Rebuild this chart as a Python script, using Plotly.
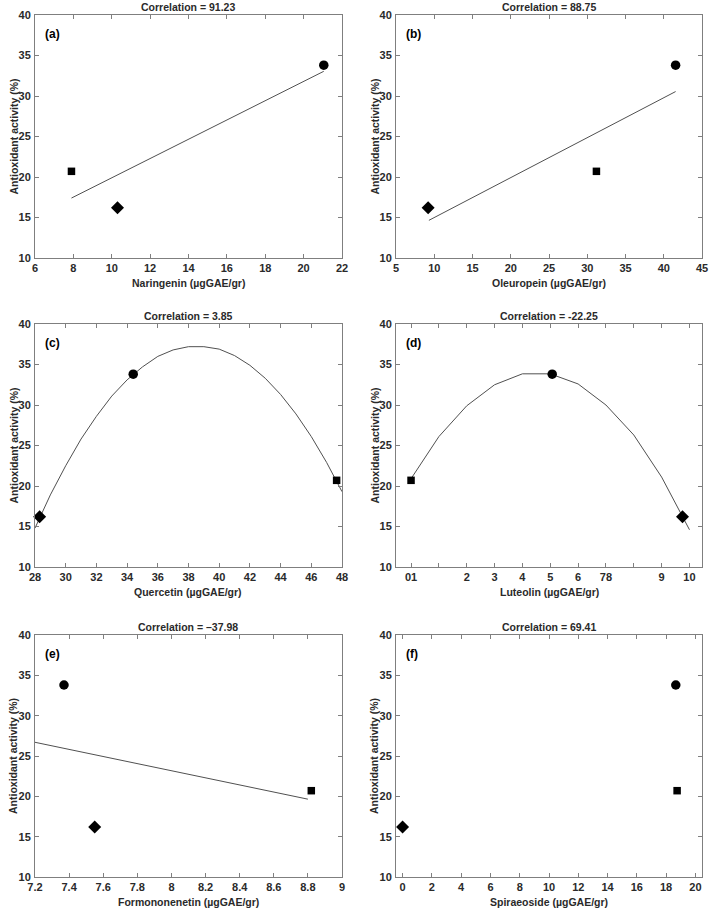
import plotly.graph_objects as go

# ---------------- data ----------------
activity = [20.7, 16.2, 33.8]            # square, diamond, circle samples
symbols = ["square", "diamond", "circle"]
sizes = [7.5, 10, 9.5]

naringenin = [7.9, 10.3, 21.05]
oleuropein = [31.2, 9.2, 41.55]
quercetin = [47.65, 28.3, 34.4]
luteolin = [0.0, 9.75, 5.07]
formononetin = [8.82, 7.55, 7.37]
spiraeoside = [18.75, 0.0, 18.66]

fit_a_x = [7.9, 21.05]
fit_a_y = [17.4, 33.05]
fit_b_x = [9.3, 41.55]
fit_b_y = [14.65, 30.55]
fit_c_x = [28, 29, 30, 31, 32, 33, 34, 35, 36, 37, 38, 39, 40, 41, 42, 43, 44, 45, 46, 47, 48]
fit_c_y = [14.8, 18.9, 22.5, 25.8, 28.6, 31.1, 33.1, 34.7, 36.0, 36.8, 37.2, 37.2, 36.9,
           36.1, 34.9, 33.3, 31.3, 28.9, 26.1, 22.9, 19.3]
fit_d_x = [0, 1, 2, 3, 4, 5, 6, 7, 8, 9, 10]
fit_d_y = [20.9, 26.1, 29.9, 32.5, 33.85, 33.85, 32.6, 30.0, 26.3, 21.1, 14.6]
fit_e_x = [7.2, 8.8]
fit_e_y = [26.7, 19.65]

luteolin_ticks = [0, 1, 2, 3, 4, 5, 6, 7, 8, 9, 10]
luteolin_ticktext = ["01", "", "2", "3", "4", "5", "6", "78", "", "9", "10"]

correlations = ["91.23", "88.75", "3.85", "-22.25", "\u201337.98", "69.41"]
panel_labels = ["(a)", "(b)", "(c)", "(d)", "(e)", "(f)"]
x_titles = ["Naringenin (\u00b5gGAE/gr)", "Oleuropein (\u00b5gGAE/gr)", "Quercetin (\u00b5gGAE/gr)",
            "Luteolin (\u00b5gGAE/gr)", "Formononenetin (\u00b5gGAE/gr)", "Spiraeoside (\u00b5gGAE/gr)"]
y_title = "Antioxidant activity (%)"

# ---------------- layout geometry ----------------
W, H = 709, 912
cols_px = [(35, 342), (396, 702)]
rows_px = [(15, 258), (324, 567), (635, 877)]

x_data = [naringenin, oleuropein, quercetin, luteolin, formononetin, spiraeoside]
fits = [(fit_a_x, fit_a_y), (fit_b_x, fit_b_y), (fit_c_x, fit_c_y),
        (fit_d_x, fit_d_y), (fit_e_x, fit_e_y), None]
x_ranges = [[6, 22], [5, 45], [28, 48], [-0.54, 10.45], [7.2, 9], [-0.45, 20.45]]
x_dticks = [2, 5, 2, None, 0.2, 2]

FONT = "Liberation Sans, Arial, sans-serif"
TXT = "#2a2a2a"
AX = "#7f7f7f"

fig = go.Figure()
annotations = []
layout = {}

for i in range(6):
    r, c = divmod(i, 2)
    xa = "x" if i == 0 else f"x{i+1}"
    ya = "y" if i == 0 else f"y{i+1}"
    xkey = "xaxis" if i == 0 else f"xaxis{i+1}"
    ykey = "yaxis" if i == 0 else f"yaxis{i+1}"
    x0, x1 = cols_px[c]
    t0, t1 = rows_px[r]
    xd = [x0 / W, x1 / W]
    yd = [1 - t1 / H, 1 - t0 / H]

    fit = fits[i]
    if fit is not None:
        fig.add_trace(go.Scatter(x=fit[0], y=fit[1], mode="lines",
                                 line=dict(color="#505050", width=1),
                                 xaxis=xa, yaxis=ya, showlegend=False, hoverinfo="skip"))
    for k in range(3):
        fig.add_trace(go.Scatter(x=[x_data[i][k]], y=[activity[k]], mode="markers",
                                 marker=dict(symbol=symbols[k], size=sizes[k], color="black",
                                             line=dict(width=0)),
                                 xaxis=xa, yaxis=ya, showlegend=False, cliponaxis=False))

    xaxis = dict(domain=xd, anchor=ya, range=x_ranges[i], showline=True, linecolor=AX,
                 linewidth=1, mirror="allticks", ticks="inside", ticklen=4, tickcolor=AX,
                 tickwidth=1, showgrid=False, zeroline=False, automargin=False,
                 tickfont=dict(family=FONT, size=11, color=TXT, weight="bold"))
    if i == 3:
        xaxis.update(tickmode="array", tickvals=luteolin_ticks, ticktext=luteolin_ticktext)
    else:
        xaxis.update(tick0=x_ranges[i][0] if i != 5 else 0, dtick=x_dticks[i])
    yaxis = dict(domain=yd, anchor=xa, range=[10, 40], dtick=5, showline=True, linecolor=AX,
                 linewidth=1, mirror="allticks", ticks="inside", ticklen=4, tickcolor=AX,
                 tickwidth=1, showgrid=False, zeroline=False, ticklabelstandoff=1,
                 automargin=False,
                 tickfont=dict(family=FONT, size=11, color=TXT, weight="bold"))
    layout[xkey] = xaxis
    layout[ykey] = yaxis

    cx = (x0 + x1) / 2 / W
    # title
    annotations.append(dict(text="Correlation = " + correlations[i], x=cx, y=1 - (t0 - 8) / H,
                            xref="paper", yref="paper", showarrow=False, xanchor="center",
                            yanchor="middle",
                            font=dict(family=FONT, size=10.5, color=TXT, weight="bold")))
    # x title
    annotations.append(dict(text=x_titles[i], x=cx, y=1 - (t1 + 25) / H, xref="paper",
                            yref="paper", showarrow=False, xanchor="center", yanchor="middle",
                            font=dict(family=FONT, size=10.5, color=TXT, weight="bold")))
    # y title
    annotations.append(dict(text=y_title, x=(x0 - 22) / W, y=1 - (t0 + t1) / 2 / H,
                            xref="paper", yref="paper", showarrow=False, textangle=-90,
                            xanchor="center", yanchor="middle",
                            font=dict(family=FONT, size=10.5, color=TXT, weight="bold")))
    # panel label
    annotations.append(dict(text=panel_labels[i], x=(x0 + 8) / W, y=1 - (t0 + 19) / H,
                            xref="paper", yref="paper", showarrow=False, xanchor="left",
                            yanchor="middle",
                            font=dict(family=FONT, size=12, color="black", weight="bold")))

fig.update_layout(width=W, height=H, margin=dict(l=0, r=0, t=0, b=0),
                  paper_bgcolor="white", plot_bgcolor="white",
                  annotations=annotations, **layout)

fig.write_html("out.html", config={"displayModeBar": False},
               post_script="document.body.style.margin='0';document.body.style.overflow='hidden';")
